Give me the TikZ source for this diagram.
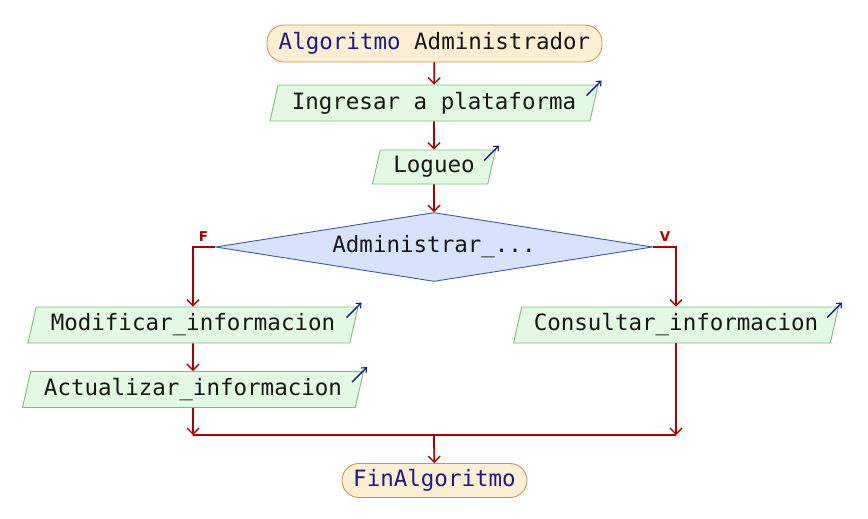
\documentclass[tikz,border=0pt]{standalone}
\usepackage{fontspec}
\usepackage{xcolor}
\usepackage{tikz}
\usetikzlibrary{arrows.meta,calc,positioning,shapes.geometric}
\newfontfamily\pse{DejaVu Sans Mono}
\newfontfamily\psesans{DejaVu Sans}
\definecolor{flowred}{HTML}{AA0000}
\definecolor{kw}{HTML}{1A1A8C}
\definecolor{txt}{HTML}{161616}
\definecolor{termfill}{HTML}{FFEFD2}
\definecolor{termdraw}{HTML}{C49A50}
\definecolor{iofill}{HTML}{E2FAE2}
\definecolor{iodraw}{HTML}{7CBE7C}
\definecolor{decfill}{HTML}{D7E3FD}
\definecolor{decdraw}{HTML}{3A58A8}
\tikzset{
  every node/.style={font=\pse\fontsize{22.5}{26}\selectfont,text=txt},
  flow/.style={draw=flowred,line width=1.8pt,-{Straight Barb[length=6pt,width=12pt,line width=1.4pt]}},
  wire/.style={draw=flowred,line width=1.8pt},
  term/.style={rounded corners=17pt,draw=termdraw,line width=0.9pt,fill=termfill,inner sep=0pt},
  io/.style={trapezium,trapezium left angle=70,trapezium right angle=110,trapezium stretches body=true,
    draw=iodraw,line width=0.9pt,fill=iofill,inner sep=0pt,minimum height=36pt},
  dec/.style={diamond,aspect=6.3,draw=decdraw,line width=0.9pt,fill=decfill,inner sep=0pt,
    minimum width=437pt,minimum height=69pt},
  icon/.style={draw=kw,line width=1.3pt,-{Straight Barb[length=4pt,width=7pt,line width=1.1pt]}},
  flag/.style={font=\psesans\bfseries\fontsize{13.5}{16}\selectfont,text=flowred,inner sep=0pt},
}

\begin{document}
\begin{tikzpicture}[x=1pt,y=-1pt]
  \useasboundingbox (0,0) rectangle (868,519);
  % start / end
  \node[term,minimum width=335pt,minimum height=37pt] (inicio) at (434.5,43.5) {\textcolor{kw}{Algoritmo} Administrador};
  \node[term,minimum width=185pt,minimum height=34pt] (fin) at (434.5,480.5) {\textcolor{kw}{FinAlgoritmo}};
  % io boxes
  \node[io,minimum width=328pt] (ingresar) at (434,103) {Ingresar a plataforma};
  \node[io,minimum width=123pt,minimum height=34pt] (logueo) at (434,167) {Logueo};
  \node[dec] (admin) at (434,247) {Administrar\_...};
  \node[io,minimum width=330pt] (modificar) at (193,325) {Modificar\_informacion};
  \node[io,minimum width=341pt] (actualizar) at (193,389.5) {Actualizar\_informacion};
  \node[io,minimum width=325pt] (consultar) at (676,325) {Consultar\_informacion};
  % flags
  \node[flag] (flagF) at (203.5,237) {F};
  \node[flag] (flagV) at (665,237) {V};
  % join
  \coordinate (joinL) at (193,435);
  \coordinate (joinM) at (434,435);
  \coordinate (joinR) at (676,435);
  % connectors
  \draw[flow] (inicio) -- (ingresar);
  \draw[flow] (ingresar) -- (logueo);
  \draw[flow] (logueo) -- (admin);
  \draw[flow] (admin.west) -| (modificar);
  \draw[flow] (admin.east) -| (consultar);
  \draw[flow] (modificar) -- (actualizar);
  \draw[flow] (actualizar) -- (joinL);
  \draw[flow] (consultar) -- (joinR);
  \draw[wire] (joinL) -- (joinR);
  \draw[flow] (joinM) -- (fin);
  % little output marks
  \foreach \n in {ingresar,logueo,modificar,actualizar,consultar}
    \draw[icon] ($(\n.top right corner)+(-12,11)$) -- ++(15,-15);
\end{tikzpicture}
\end{document}
